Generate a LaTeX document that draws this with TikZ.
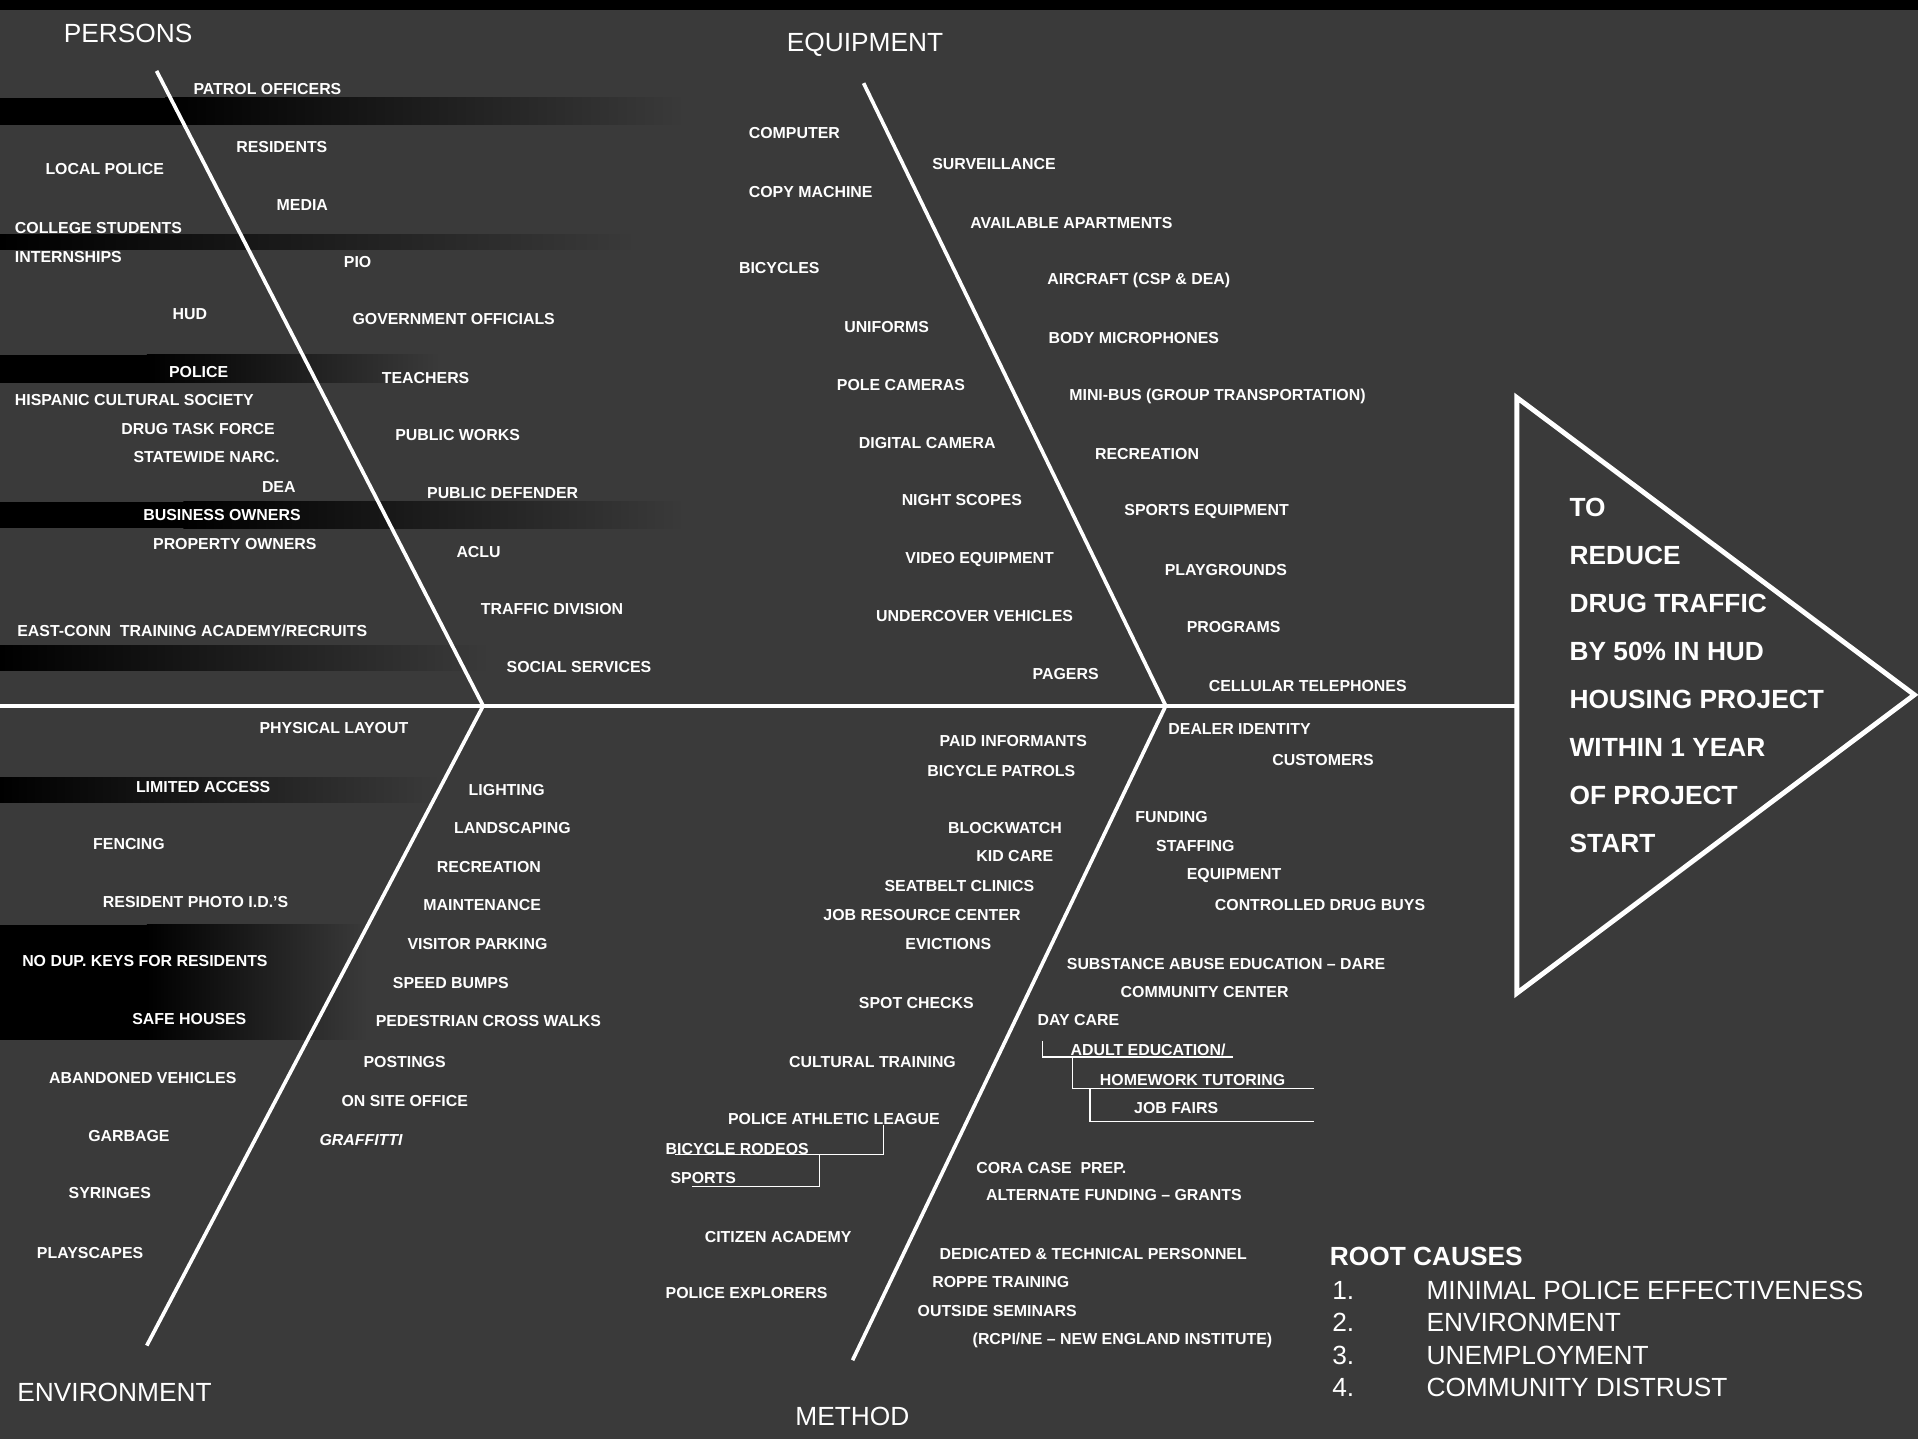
\documentclass[tikz,border=0pt]{standalone}
\usepackage{fontspec}
\setmainfont{Liberation Sans}
\usetikzlibrary{calc}
\definecolor{bg}{HTML}{3A3A3A}
\begin{document}
\begin{tikzpicture}[x=1pt,y=-1pt,
  lab/.style={anchor=west,inner sep=0pt,text=white,font=\bfseries\fontsize{13}{13}\selectfont},
  head/.style={anchor=west,inner sep=0pt,text=white,font=\fontsize{21.5}{21.5}\selectfont},
  bone/.style={draw=white,line width=3pt},
  brk/.style={draw=white,line width=1.1pt},
  band/.style={left color=black,right color=bg}]
% background
\fill[bg] (0,0) rectangle (1568,1176);
\useasboundingbox (0,0) rectangle (1568,1176);
% dark scan bands
\fill[black] (0,0) rectangle (1568,8);
\fill[black] (0,80) rectangle (135,102);
\shade[band] (135,80) rectangle (560,102);
\shade[band] (0,192) rectangle (520,204);
\fill[black] (0,290) rectangle (120,313);
\shade[band] (120,290) rectangle (360,313);
\fill[black] (0,410) rectangle (150,432);
\shade[band] (150,410) rectangle (560,432);
\shade[band] (0,528) rectangle (400,548);
\shade[band] (0,636) rectangle (360,656);
\fill[black] (0,756) rectangle (120,850);
\shade[band] (120,756) rectangle (300,850);
% spine and goal
\coordinate (spL) at (0,577);
\coordinate (triL) at (1240,577);
\coordinate (tA) at (1240,325);
\coordinate (tB) at (1565,568);
\coordinate (tC) at (1240,812);
\draw[white,line width=3pt] (spL) -- (triL);
\draw[white,line width=4pt,line join=miter] (tA) -- (tB) -- (tC) -- cycle;
% bones
\coordinate (j1) at (395,577);
\coordinate (j2) at (953,577);
\coordinate (pTop) at (128,58);
\coordinate (eTop) at (706,68);
\coordinate (vBot) at (120,1100);
\coordinate (mBot) at (697,1112);
\draw[bone] (pTop) -- (j1);
\draw[bone] (eTop) -- (j2);
\draw[bone] (j1) -- (vBot);
\draw[bone] (j2) -- (mBot);
% headings
\node[head] (hP) at (52,27) {PERSONS};
\node[head] (hE) at (643,37) {EQUIPMENT};
\node[head] (hV) at (14,1138) {ENVIRONMENT};
\node[head] (hM) at (650,1158) {METHOD};
% PERSONS
\node[lab] (p1) at (158,73) {PATROL OFFICERS};
\node[lab] (p2) at (193,120) {RESIDENTS};
\node[lab] (p3) at (37,138) {LOCAL POLICE};
\node[lab] (p4) at (226,168) {MEDIA};
\node[lab] (p5) at (12,186) {COLLEGE STUDENTS};
\node[lab] (p6) at (12,210) {INTERNSHIPS};
\node[lab] (p7) at (281,214) {PIO};
\node[lab] (p8) at (141,257) {HUD};
\node[lab] (p9) at (288,261) {GOVERNMENT OFFICIALS};
\node[lab] (p10) at (138,304) {POLICE};
\node[lab] (p11) at (312,309) {TEACHERS};
\node[lab] (p12) at (12,327) {HISPANIC CULTURAL SOCIETY};
\node[lab] (p13) at (99,351) {DRUG TASK FORCE};
\node[lab] (p14) at (323,356) {PUBLIC WORKS};
\node[lab] (p15) at (109,374) {STATEWIDE NARC.};
\node[lab] (p16) at (214,398) {DEA};
\node[lab] (p17) at (349,403) {PUBLIC DEFENDER};
\node[lab] (p18) at (117,421) {BUSINESS OWNERS};
\node[lab] (p19) at (125,445) {PROPERTY OWNERS};
\node[lab] (p20) at (373,451) {ACLU};
\node[lab] (p21) at (393,498) {TRAFFIC DIVISION};
\node[lab] (p22) at (14,516) {EAST-CONN\ \ TRAINING ACADEMY/RECRUITS};
\node[lab] (p23) at (414,545) {SOCIAL SERVICES};
% EQUIPMENT
\node[lab] (e1) at (612,109) {COMPUTER};
\node[lab] (e2) at (762,134) {SURVEILLANCE};
\node[lab] (e3) at (612,157) {COPY MACHINE};
\node[lab] (e4) at (793,182) {AVAILABLE APARTMENTS};
\node[lab] (e5) at (604,219) {BICYCLES};
\node[lab] (e6) at (856,229) {AIRCRAFT (CSP \& DEA)};
\node[lab] (e7) at (690,267) {UNIFORMS};
\node[lab] (e8) at (857,276) {BODY MICROPHONES};
\node[lab] (e9) at (684,315) {POLE CAMERAS};
\node[lab] (e10) at (874,324) {MINI-BUS (GROUP TRANSPORTATION)};
\node[lab] (e11) at (702,362) {DIGITAL CAMERA};
\node[lab] (e12) at (895,371) {RECREATION};
\node[lab] (e13) at (737,409) {NIGHT SCOPES};
\node[lab] (e14) at (919,418) {SPORTS EQUIPMENT};
\node[lab] (e15) at (740,457) {VIDEO EQUIPMENT};
\node[lab] (e16) at (952,466) {PLAYGROUNDS};
\node[lab] (e17) at (716,504) {UNDERCOVER VEHICLES};
\node[lab] (e18) at (970,513) {PROGRAMS};
\node[lab] (e19) at (844,551) {PAGERS};
\node[lab] (e20) at (988,561) {CELLULAR TELEPHONES};
% ENVIRONMENT
\node[lab] (v1) at (212,595) {PHYSICAL LAYOUT};
\node[lab] (v2) at (111,643) {LIMITED ACCESS};
\node[lab] (v3) at (383,646) {LIGHTING};
\node[lab] (v4) at (371,677) {LANDSCAPING};
\node[lab] (v5) at (76,690) {FENCING};
\node[lab] (v6) at (357,709) {RECREATION};
\node[lab] (v7) at (84,737) {RESIDENT PHOTO I.D.'S};
\node[lab] (v8) at (346,740) {MAINTENANCE};
\node[lab] (v9) at (333,772) {VISITOR PARKING};
\node[lab] (v10) at (18,786) {NO DUP. KEYS FOR RESIDENTS};
\node[lab] (v11) at (321,804) {SPEED BUMPS};
\node[lab] (v12) at (108,833) {SAFE HOUSES};
\node[lab] (v13) at (307,835) {PEDESTRIAN CROSS WALKS};
\node[lab] (v14) at (297,868) {POSTINGS};
\node[lab] (v15) at (40,881) {ABANDONED VEHICLES};
\node[lab] (v16) at (279,900) {ON SITE OFFICE};
\node[lab] (v17) at (72,929) {GARBAGE};
\node[lab,font=\bfseries\itshape\fontsize{13}{13}\selectfont] (v18) at (261,932) {GRAFFITTI};
\node[lab] (v19) at (56,975) {SYRINGES};
\node[lab] (v20) at (30,1024) {PLAYSCAPES};
% METHOD
\node[lab] (m1) at (955,596) {DEALER IDENTITY};
\node[lab] (m2) at (768,606) {PAID INFORMANTS};
\node[lab] (m3) at (1040,621) {CUSTOMERS};
\node[lab] (m4) at (758,630) {BICYCLE PATROLS};
\node[lab] (m5) at (928,668) {FUNDING};
\node[lab] (m6) at (775,677) {BLOCKWATCH};
\node[lab] (m7) at (945,692) {STAFFING};
\node[lab] (m8) at (798,700) {KID CARE};
\node[lab] (m9) at (970,716) {EQUIPMENT};
\node[lab] (m10) at (723,724) {SEATBELT CLINICS};
\node[lab] (m11) at (993,740) {CONTROLLED DRUG BUYS};
\node[lab] (m12) at (673,748) {JOB RESOURCE CENTER};
\node[lab] (m13) at (740,772) {EVICTIONS};
\node[lab] (m14) at (872,788) {SUBSTANCE ABUSE EDUCATION -- DARE};
\node[lab] (m15) at (916,811) {COMMUNITY CENTER};
\node[lab] (m16) at (702,820) {SPOT CHECKS};
\node[lab] (m17) at (848,834) {DAY CARE};
\node[lab] (m18) at (875,858) {ADULT EDUCATION/};
\node[lab] (m19) at (645,868) {CULTURAL TRAINING};
\node[lab] (m20) at (899,883) {HOMEWORK TUTORING};
\node[lab] (m21) at (927,906) {JOB FAIRS};
\node[lab] (m22) at (595,915) {POLICE ATHLETIC LEAGUE};
\node[lab] (m23) at (544,939) {BICYCLE RODEOS};
\node[lab] (m24) at (798,955) {CORA CASE\ \ PREP.};
\node[lab] (m25) at (548,963) {SPORTS};
\node[lab] (m26) at (806,977) {ALTERNATE FUNDING -- GRANTS};
\node[lab] (m27) at (576,1011) {CITIZEN ACADEMY};
\node[lab] (m28) at (768,1025) {DEDICATED \& TECHNICAL PERSONNEL};
\node[lab] (m29) at (762,1048) {ROPPE TRAINING};
\node[lab] (m30) at (544,1057) {POLICE EXPLORERS};
\node[lab] (m31) at (750,1072) {OUTSIDE SEMINARS};
\node[lab] (m32) at (795,1096) {(RCPI/NE -- NEW ENGLAND INSTITUTE)};
% brackets (method, right)
\coordinate (b1a) at (852,851);
\coordinate (b1b) at (852,864);
\coordinate (b1c) at (1008,864);
\coordinate (b2a) at (877,864);
\coordinate (b2b) at (877,890);
\coordinate (b2c) at (1074,890);
\coordinate (b3a) at (891,890);
\coordinate (b3b) at (891,917);
\coordinate (b3c) at (1074,917);
\draw[brk] (b1a) -- (b1b) -- (b1c);
\draw[brk] (b2a) -- (b2b) -- (b2c);
\draw[brk] (b3a) -- (b3b) -- (b3c);
% brackets (method, left)
\coordinate (c1a) at (722,920);
\coordinate (c1b) at (722,944);
\coordinate (c1c) at (552,944);
\coordinate (c2a) at (670,944);
\coordinate (c2b) at (670,970);
\coordinate (c2c) at (566,970);
\draw[brk] (c1a) -- (c1b) -- (c1c);
\draw[brk] (c2a) -- (c2b) -- (c2c);
% goal text
\node[anchor=west,inner sep=0pt,text=white,align=left,
      font=\bfseries\fontsize{21.5}{39.3}\selectfont] (goal) at (1283,552)
 {TO\\REDUCE\\DRUG TRAFFIC\\BY 50\% IN HUD\\HOUSING PROJECT\\WITHIN 1 YEAR\\OF PROJECT\\START};
% root causes
\node[head,font=\bfseries\fontsize{21.5}{21.5}\selectfont] (rc) at (1087,1027) {ROOT CAUSES};
\node[head] (rn1) at (1089,1055) {1.};
\node[head] (rt1) at (1166,1055) {MINIMAL POLICE EFFECTIVENESS};
\node[head] (rn2) at (1089,1081) {2.};
\node[head] (rt2) at (1166,1081) {ENVIRONMENT};
\node[head] (rn3) at (1089,1108) {3.};
\node[head] (rt3) at (1166,1108) {UNEMPLOYMENT};
\node[head] (rn4) at (1089,1134) {4.};
\node[head] (rt4) at (1166,1134) {COMMUNITY DISTRUST};
\end{tikzpicture}
\end{document}
